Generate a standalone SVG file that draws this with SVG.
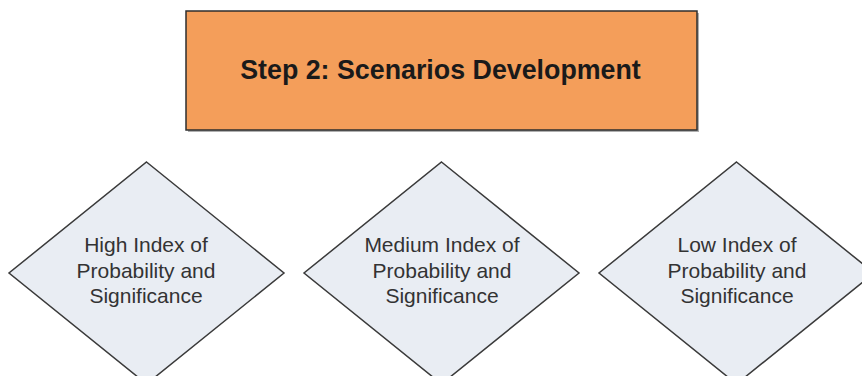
<svg xmlns="http://www.w3.org/2000/svg" width="862" height="376" viewBox="0 0 862 376">
  <style>
    .title { font-family: "Liberation Sans", Arial, sans-serif; font-weight: bold; font-size: 26.8px; fill: #1a1a1a; text-anchor: middle; }
    .lbl { font-family: "Liberation Sans", Arial, sans-serif; font-size: 21px; fill: #333333; text-anchor: middle; }
    .dia { fill: #E9EDF3; stroke: #3a3a3a; stroke-width: 1.5; }
  </style>
  <rect width="862" height="376" fill="#ffffff"/>
  <g id="step2">
    <rect x="188" y="13" width="511" height="119" fill="#7a7a7a" opacity="0.6"/>
    <rect x="186" y="11" width="511" height="119" fill="#F49E5A" stroke="#2e2e2e" stroke-width="1.5"/>
    <text class="title" x="440.5" y="79">Step 2: Scenarios Development</text>
  </g>
  <g id="connectors"></g>
  <g id="high">
    <polygon class="dia" points="146.5,162 284,273 146.5,384 9,273"/>
    <text class="lbl" x="146" y="252">High Index of</text>
    <text class="lbl" x="146" y="278">Probability and</text>
    <text class="lbl" x="146" y="303">Significance</text>
  </g>
  <g id="medium">
    <polygon class="dia" points="441.5,162 579,273 441.5,384 304,273"/>
    <text class="lbl" x="442" y="252">Medium Index of</text>
    <text class="lbl" x="442" y="278">Probability and</text>
    <text class="lbl" x="442" y="303">Significance</text>
  </g>
  <g id="low">
    <polygon class="dia" points="736.5,162 874,273 736.5,384 599,273"/>
    <text class="lbl" x="737" y="252">Low Index of</text>
    <text class="lbl" x="737" y="278">Probability and</text>
    <text class="lbl" x="737" y="303">Significance</text>
  </g>
</svg>
